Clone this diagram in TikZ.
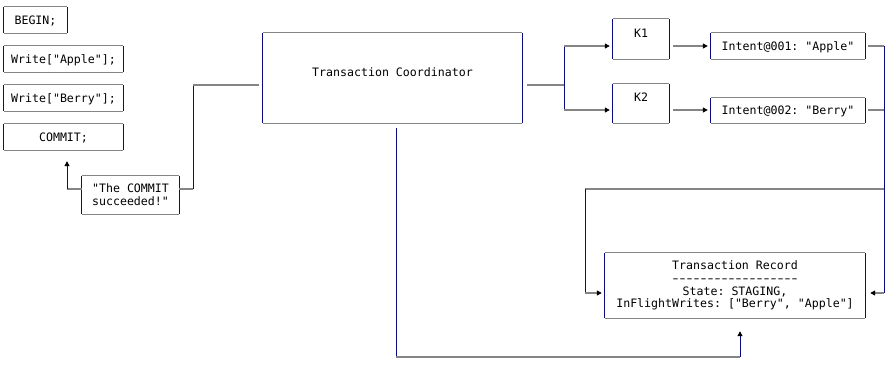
\documentclass[tikz,border=0pt]{standalone}
\usepackage{fontspec}
\usepackage{graphicx}
\setmonofont{DejaVu Sans Mono}
\usetikzlibrary{arrows.meta}
\definecolor{hl}{HTML}{858585}
\definecolor{vl}{HTML}{0A0A80}
\newcommand\dsh{\makebox[7pt]{\scalebox{1.5}[1]{-}}}
\tikzset{
  hseg/.style={draw=hl, line width=1.2pt},
  vseg/.style={draw=vl, line width=1pt},
  tip/.style={-{Triangle[length=5pt,width=5pt,color=black]}},
  dbase/.style={rectangle, inner sep=0pt, draw=none, align=center,
    font=\ttfamily\fontsize{11.6}{12.7}\selectfont},
  dbox/.style={dbase, text height=8.5pt, text depth=0pt},
}
\newcommand\boxedges[1]{%
  \draw[hseg] (#1.north west) -- (#1.north east);
  \draw[hseg] (#1.south west) -- (#1.south east);
  \draw[vseg] (#1.north west) -- (#1.south west);
  \draw[vseg] (#1.north east) -- (#1.south east);}
\begin{document}
\begin{tikzpicture}[x=1pt,y=-1pt]
\useasboundingbox (0,0) rectangle (890,365);
% boxes
\node[dbox, minimum width=63pt, minimum height=26pt] (begin) at (35.5,20) {BEGIN;};
\node[dbox, minimum width=119pt, minimum height=26pt] (wa) at (63.5,59) {Write["Apple"];};
\node[dbox, minimum width=119pt, minimum height=26pt] (wb) at (63.5,98) {Write["Berry"];};
\node[dbox, minimum width=119pt, minimum height=26pt] (cm) at (63.5,137) {COMMIT;};
\node[dbase, minimum width=97pt, minimum height=38pt] (succ) at (130.5,195) {"The COMMIT\\succeeded!"};
\node[dbase, minimum width=259pt, text height=43pt, text depth=47pt] (coord) at (392.5,78) {Transaction Coordinator};
\node[dbase, minimum width=56pt, text height=18.2pt, text depth=21.8pt] (k1) at (641,39) {K1};
\node[dbase, minimum width=56pt, text height=17.2pt, text depth=21.8pt] (k2) at (641,103.5) {K2};
\node[dbox, minimum width=154pt, minimum height=26pt] (i1) at (788,46) {Intent@001: "Apple"};
\node[dbox, minimum width=154pt, minimum height=25pt] (i2) at (788,110.5) {Intent@002: "Berry"};
\node[dbase, minimum width=260pt, minimum height=65pt] (tr) at (735,285.5)
  {Transaction Record\\\dsh\dsh\dsh\dsh\dsh\dsh\dsh\dsh\dsh\dsh\dsh\dsh\dsh\dsh\dsh\dsh\dsh\dsh\\State: STAGING,\\InFlightWrites: ["Berry", "Apple"]};
\boxedges{begin}\boxedges{wa}\boxedges{wb}\boxedges{cm}\boxedges{succ}
\boxedges{coord}\boxedges{k1}\boxedges{k2}\boxedges{i1}\boxedges{i2}\boxedges{tr}
% succ -> COMMIT
\coordinate (c1) at (67,189);
\draw[hseg] (succ.west |- c1) -- (c1);
\draw[vseg,tip,shorten >=11pt] (c1) -- (c1 |- cm.south);
% succ -> coordinator
\coordinate (c2) at (193,189);
\coordinate (c3) at (193,85);
\draw[hseg] (succ.east |- c2) -- (c2);
\draw[vseg] (c2) -- (c3);
\draw[hseg,shorten >=4pt] (c3) -- (c3 -| coord.west);
% coordinator -> K1, K2
\coordinate (b1) at (564,85);
\coordinate (b2) at (564,46);
\coordinate (b3) at (564,110);
\draw[hseg,shorten <=5pt] (coord.east |- b1) -- (b1);
\draw[vseg] (b2) -- (b3);
\draw[hseg,tip,shorten >=3pt] (b2) -- (b2 -| k1.west);
\draw[hseg,tip,shorten >=3pt] (b3) -- (b3 -| k2.west);
% K -> Intent
\draw[hseg,tip,shorten <=4pt,shorten >=3pt] (k1.east |- b2) -- (b2 -| i1.west);
\draw[hseg,tip,shorten <=4pt,shorten >=3pt] (k2.east |- b3) -- (b3 -| i2.west);
% Intent -> Transaction Record
\coordinate (r1) at (884,46);
\coordinate (r2) at (884,110);
\coordinate (r3) at (884,293);
\coordinate (r4) at (884,189);
\draw[hseg,shorten <=3pt] (i1.east |- r1) -- (r1);
\draw[hseg,shorten <=3pt] (i2.east |- r2) -- (r2);
\draw[vseg] (r1) -- (r3);
\draw[hseg,tip,shorten >=5pt] (r3) -- (r3 -| tr.east);
\coordinate (l1) at (585,189);
\coordinate (l2) at (585,293);
\draw[hseg] (r4) -- (l1);
\draw[vseg] (l1) -- (l2);
\draw[hseg,tip,shorten >=3pt] (l2) -- (l2 -| tr.west);
% coordinator -> Transaction Record (bottom)
\coordinate (d1) at (396,357);
\coordinate (d2) at (740,357);
\draw[vseg,shorten <=5pt] (d1 |- coord.south) -- (d1);
\draw[hseg] (d1) -- (d2);
\draw[vseg,tip,shorten >=13pt] (d2) -- (d2 |- tr.south);
\end{tikzpicture}
\end{document}
